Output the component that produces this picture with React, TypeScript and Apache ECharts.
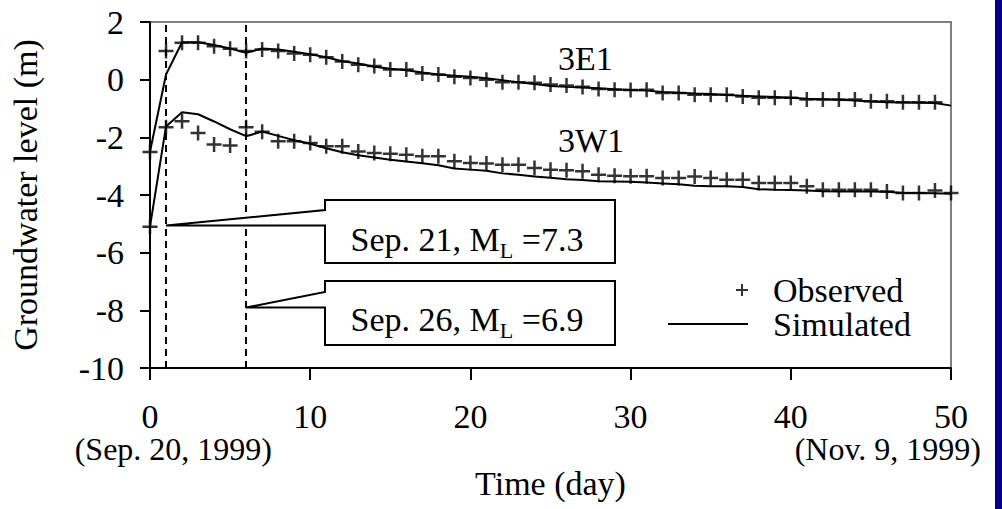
import React, { useEffect, useRef } from "react";
import * as echarts from "echarts";

// Observed groundwater levels (m), daily from day 0
const obs3E1 = [-2.51, 0.99, 1.28, 1.28, 1.16, 1.07, 0.99, 1.05, 0.99, 0.91, 0.86, 0.78, 0.63, 0.52, 0.47, 0.35, 0.35, 0.21, 0.18, 0.1, 0.06, 0.0, -0.09, -0.09, -0.11, -0.17, -0.2, -0.25, -0.32, -0.35, -0.36, -0.35, -0.46, -0.46, -0.52, -0.52, -0.52, -0.58, -0.63, -0.63, -0.63, -0.69, -0.69, -0.69, -0.69, -0.75, -0.75, -0.78, -0.78, -0.78];
const obs3W1 = [-5.1, -1.65, -1.44, -1.85, -2.25, -2.28, -1.65, -1.81, -2.14, -2.14, -2.2, -2.31, -2.31, -2.49, -2.54, -2.57, -2.6, -2.66, -2.66, -2.83, -2.89, -2.91, -2.95, -2.95, -3.06, -3.12, -3.14, -3.18, -3.3, -3.33, -3.35, -3.35, -3.41, -3.41, -3.36, -3.41, -3.47, -3.47, -3.58, -3.58, -3.58, -3.7, -3.82, -3.82, -3.82, -3.82, -3.88, -3.93, -3.93, -3.84, -3.93];
// Simulated groundwater levels (m), daily from day 0
const sim3E1 = [-2.5, 0.18, 1.3, 1.3, 1.2, 1.08, 0.93, 1.08, 1.05, 0.97, 0.88, 0.78, 0.64, 0.56, 0.45, 0.38, 0.33, 0.25, 0.18, 0.14, 0.1, 0.05, -0.02, -0.09, -0.15, -0.22, -0.25, -0.27, -0.3, -0.33, -0.36, -0.38, -0.43, -0.45, -0.48, -0.5, -0.53, -0.56, -0.58, -0.6, -0.63, -0.66, -0.68, -0.7, -0.72, -0.76, -0.78, -0.79, -0.8, -0.81, -0.9];
const sim3W1 = [-5.1, -1.62, -1.13, -1.2, -1.45, -1.72, -1.96, -1.8, -1.95, -2.1, -2.22, -2.38, -2.52, -2.62, -2.7, -2.78, -2.84, -2.9, -2.97, -3.08, -3.12, -3.16, -3.25, -3.3, -3.36, -3.4, -3.45, -3.48, -3.52, -3.53, -3.54, -3.57, -3.6, -3.63, -3.68, -3.7, -3.7, -3.72, -3.8, -3.82, -3.83, -3.84, -3.87, -3.88, -3.88, -3.88, -3.89, -3.93, -3.93, -3.94, -3.96];

const quakeDays = [1, 6];
const calloutLevels = [-5.06, -7.9];
const calloutDates = ["Sep. 21, M", "Sep. 26, M"];
const calloutMagnitudes = [" =7.3", " =6.9"];
const wellNames = ["3E1", "3W1"];
const startDate = "(Sep. 20, 1999)";
const endDate = "(Nov. 9, 1999)";

const FONT = "'Liberation Serif', 'Times New Roman', serif";
const FS = 34;

const toPairs = (arr: number[]) => arr.map((v, i) => [i, v]);

const plusSymbol = "path://M5,0h2v5h5v2h-5v5h-2v-5h-5v-2h5z";
const legendPlus = "path://M0,0h0.01v0.01h-0.01z M99.99,13.99h0.01v0.01h-0.01z M68,6h5v-5h2v5h5v2h-5v5h-2v-5h-5z";
const legendLine = "path://M0,0h0.01v0.01h-0.01z M99.99,13.99h0.01v0.01h-0.01z M0,6h80v2h-80z";

export default function App() {
  const ref = useRef<HTMLDivElement>(null);
  useEffect(() => {
    if (!ref.current) return;
    const chart = echarts.init(ref.current, null, { renderer: "svg" });
    const option: any = {
      animation: false,
      backgroundColor: "#fff",
      grid: {
        left: 148, top: 22, width: 803, height: 346,
        show: true, borderColor: "#808080", borderWidth: 2, backgroundColor: "transparent",
      },
      xAxis: {
        type: "value", min: 0, max: 50, interval: 10,
        name: "Time (day)", nameLocation: "middle", nameGap: 103,
        nameTextStyle: { fontFamily: FONT, fontSize: FS, color: "#000", lineHeight: 24 },
        axisLine: { onZero: false, lineStyle: { color: "#000", width: 2 } },
        axisTick: { length: 12, lineStyle: { color: "#000", width: 2 } },
        axisLabel: { fontFamily: FONT, fontSize: FS, color: "#000", margin: 36, lineHeight: 24 },
        splitLine: { show: false },
      },
      yAxis: {
        type: "value", min: -10, max: 2, interval: 2,
        name: "Groundwater level (m)", nameLocation: "middle", nameGap: 108,
        nameTextStyle: { fontFamily: FONT, fontSize: FS, color: "#000", lineHeight: 34 },
        axisLine: { onZero: false, lineStyle: { color: "#000", width: 2 } },
        axisTick: { length: 10, lineStyle: { color: "#000", width: 2 } },
        axisLabel: { fontFamily: FONT, fontSize: FS, color: "#000", margin: 26 },
        splitLine: { show: false },
      },
      legend: {
        left: 668, top: 273, orient: "vertical", padding: 0, itemGap: 0,
        itemWidth: 100, itemHeight: 14, selectedMode: false,
        textStyle: { fontFamily: FONT, fontSize: FS, color: "#000", lineHeight: 34 },
        data: [
          { name: "Observed", icon: legendPlus },
          { name: "Simulated", icon: legendLine },
        ],
      },
      series: [
        {
          name: "Simulated", type: "line", data: toPairs(sim3E1), showSymbol: false, symbol: "none",
          lineStyle: { color: "#000", width: 2 }, itemStyle: { color: "#000" }, silent: true,
          markLine: {
            silent: true, symbol: ["none", "none"], label: { show: false },
            lineStyle: { color: "#000", width: 2, type: [7, 5] },
            data: quakeDays.map((d) => ({ xAxis: d })),
          },
        },
        {
          name: "Simulated", type: "line", data: toPairs(sim3W1), showSymbol: false, symbol: "none",
          lineStyle: { color: "#000", width: 2 }, itemStyle: { color: "#000" }, silent: true,
        },
        {
          name: "Observed", type: "scatter", data: toPairs(obs3E1), symbol: plusSymbol, symbolSize: 15,
          itemStyle: { color: "#000" }, clip: false, silent: true,
        },
        {
          name: "Observed", type: "scatter", data: toPairs(obs3W1), symbol: plusSymbol, symbolSize: 15,
          itemStyle: { color: "#000" }, clip: false, silent: true,
        },
      ],
    };
    chart.setOption(option);

    const boxes = [
      { top: 200, bottom: 263, notch: 210, textY: 239 },
      { top: 281, bottom: 345, notch: 292, textY: 319 },
    ];
    const boxL = 325, boxR = 615;
    const graphics: any[] = [];
    quakeDays.forEach((d, i) => {
      const tip = chart.convertToPixel({ gridIndex: 0 }, [d, calloutLevels[i]]) as number[];
      const b = boxes[i];
      graphics.push({
        type: "polygon",
        shape: {
          points: [
            [tip[0], tip[1]], [boxL, b.notch], [boxL, b.top], [boxR, b.top],
            [boxR, b.bottom], [boxL, b.bottom], [boxL, tip[1]],
          ],
        },
        style: { fill: "#fff", stroke: "#000", lineWidth: 2 },
        z: 100,
      });
      graphics.push({
        type: "text", x: 467, y: b.textY, z: 101,
        style: {
          text: `{a|${calloutDates[i]}}{s|L}{a|${calloutMagnitudes[i]}}`,
          align: "center", verticalAlign: "middle",
          rich: {
            a: { fontFamily: FONT, fontSize: FS, lineHeight: 44, fill: "#000" },
            s: { fontFamily: FONT, fontSize: 22, lineHeight: 22, verticalAlign: "bottom", fill: "#000" },
          },
        },
      });
    });
    graphics.push(
      { type: "text", x: 558, y: 58, z: 101, style: { text: wellNames[0], font: `${FS}px ${FONT}`, fill: "#000", verticalAlign: "middle" } },
      { type: "text", x: 558, y: 140, z: 101, style: { text: wellNames[1], font: `${FS}px ${FONT}`, fill: "#000", verticalAlign: "middle" } },
      { type: "text", x: 272, y: 449, z: 101, style: { text: startDate, font: `32px ${FONT}`, lineHeight: 24, fill: "#000", align: "right", verticalAlign: "middle" } },
      { type: "text", x: 981, y: 449, z: 101, style: { text: endDate, font: `32px ${FONT}`, lineHeight: 24, fill: "#000", align: "right", verticalAlign: "middle" } },
      { type: "rect", shape: { x: 995, y: 0, width: 7, height: 509 }, style: { fill: "#000080" }, z: 102 },
    );
    chart.setOption({ graphic: graphics });
    return () => chart.dispose();
  }, []);
  return (
    <div
      ref={ref}
      style={{ position: "fixed", left: 0, top: 0, width: 1002, height: 509, background: "#fff" }}
    />
  );
}
